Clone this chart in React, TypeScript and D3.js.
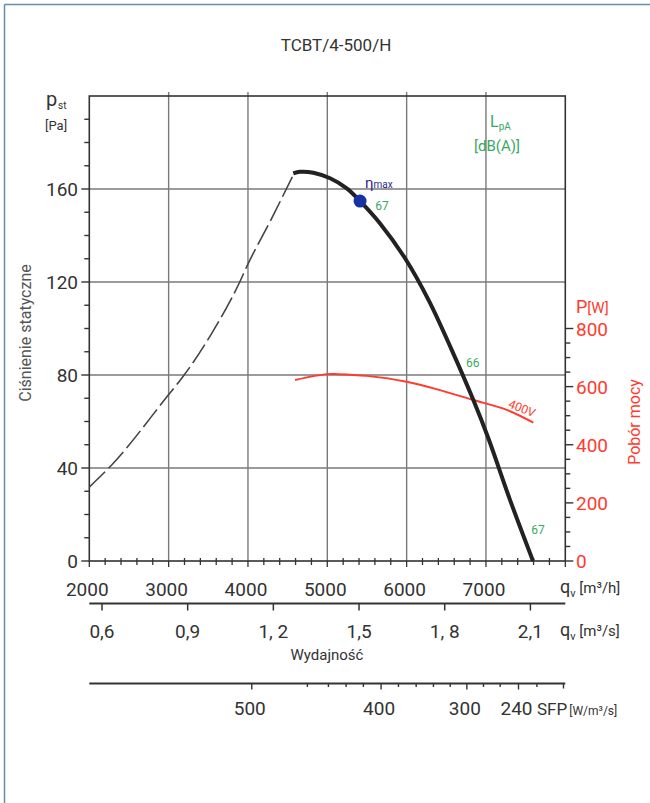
import React from "react";
import * as d3 from "d3";

// ---- data ----
const qhTicks = [2000, 3000, 4000, 5000, 6000, 7000];
const qhMinor = d3.range(2000, 8001, 200);
const qsTicks = [0.6, 0.9, 1.2, 1.5, 1.8, 2.1];
const qsLabels = ["0,6", "0,9", "1, 2", "1,5", "1, 8", "2,1"];
const pTicks = [0, 40, 80, 120, 160];
const pMinor = d3.range(0, 191, 10);
const wTicks = [0, 200, 400, 600, 800];
const wMinor = d3.range(0, 801, 50);

// SFP axis: value and flow position (m3/h) where it sits
const sfpValues = [500, 480, 460, 440, 420, 400, 380, 360, 340, 320, 300, 280, 260, 240, 220];
const sfpFlows = [4048, 4749, 5014, 5237, 5455, 5678, 5897, 6120, 6338, 6549, 6759, 6969, 7179, 7410, 7642];
const sfpLabeled = [500, 400, 300, 240];
const sfpEndFlow = 7977;

// unstable (dashed) part of characteristic
const dashedQ = [2000, 2282, 2996, 3165, 3543, 3878, 4004, 4299, 4571];
const dashedP = [31.8, 41.3, 71.4, 78.6, 97.9, 118.7, 128, 147.4, 166];

// working characteristic
const curveQ = [4571, 4656, 4824, 5035, 5245, 5413, 5665, 5980, 6280, 6568, 6841, 7030, 7304, 7593];
const curveP = [166.7, 167.4, 167, 164.6, 160.3, 154.8, 145.2, 130.2, 112, 90.8, 69.2, 52.8, 26.2, 0];

// power consumption 400V
const powerQ = [4594, 4993, 5139, 5497, 6001, 6421, 6841, 7262, 7597];
const powerW = [623, 643, 643, 637, 617, 588, 554, 520, 476];

const etaQ = 5413;
const etaP = 154.8;

const noiseQ = [5604, 6748, 7570];
const noiseP = [151, 83.6, 11.6];
const noiseText = ["67", "66", "67"];

const FONT = "Roboto, 'Open Sans', sans-serif";
const DARK = "#333";
const RED = "#ff3b2f";
const GREEN = "#3aa866";

export default function App() {
  const W = 650, H = 803;
  const x = d3.scaleLinear().domain([2000, 8000]).range([89.3, 565.3]);
  const y = d3.scaleLinear().domain([0, 200]).range([561, 96]);
  const yW = d3.scaleLinear().domain([0, 1600]).range([561, 96]);
  const [x0, x1] = x.range();
  const [yb, yt] = y.range();

  const dashedPath = d3
    .line<number>()
    .x((q) => x(q))
    .y((_, i) => y(dashedP[i]))
    .curve(d3.curveMonotoneX)(dashedQ);
  const curvePath = d3
    .line<number>()
    .x((q) => x(q))
    .y((_, i) => y(curveP[i]))
    .curve(d3.curveCatmullRom.alpha(0.5))(curveQ);
  const powerPath = d3
    .line<number>()
    .x((q) => x(q))
    .y((_, i) => yW(powerW[i]))
    .curve(d3.curveCatmullRom.alpha(0.5))(powerQ);

  const yQs = 603.5;
  const ySfp = 683.5;

  return (
    <svg width={W} height={H} style={{ position: "absolute", left: 0, top: 0 }} fontFamily={FONT}>
      <rect x={0} y={0} width={W} height={H} fill="#fff" />
      {/* outer frame */}
      <line x1={4.5} y1={4.5} x2={W} y2={4.5} stroke="#6a8bb0" strokeWidth={1.5} />
      <line x1={4.5} y1={4.5} x2={4.5} y2={H} stroke="#6a8bb0" strokeWidth={1.5} />

      <text x={336} y={51} textAnchor="middle" fontSize={17} fill={DARK}>TCBT/4-500/H</text>

      {/* grid */}
      {qhTicks.slice(1).map((q) => (
        <line key={"gv" + q} x1={x(q)} x2={x(q)} y1={yt - 4} y2={yb} stroke="#7a7a7a" strokeWidth={1.4} />
      ))}
      {pTicks.slice(1).map((p) => (
        <line key={"gh" + p} x1={x0} x2={x1} y1={y(p)} y2={y(p)} stroke="#7a7a7a" strokeWidth={1.4} />
      ))}

      {/* plot box */}
      <rect x={x0} y={yt} width={x1 - x0} height={yb - yt} fill="none" stroke="#333" strokeWidth={1.6} />

      {/* left axis ticks */}
      {pMinor.map((p) => (
        <line key={"lt" + p} x1={x0 - (p % 40 === 0 ? 8 : 5)} x2={x0} y1={y(p)} y2={y(p)} stroke="#333" strokeWidth={1.4} />
      ))}
      {pTicks.map((p) => (
        <text key={"ll" + p} x={78} y={y(p) + 7} textAnchor="end" fontSize={19} fill={DARK}>{p}</text>
      ))}
      <text x={46} y={106} fontSize={20} fill={DARK}>p</text>
      <text x={58} y={109} fontSize={10} fill={DARK}>st</text>
      <text x={45} y={130} fontSize={13} fill={DARK}>[Pa]</text>
      <text transform={`translate(31,333) rotate(-90)`} textAnchor="middle" fontSize={16} fill="#555">Ciśnienie statyczne</text>

      {/* right axis */}
      {wMinor.map((w) => (
        <line key={"rt" + w} x1={x1} x2={x1 + (w % 200 === 0 ? 8 : 5)} y1={yW(w)} y2={yW(w)} stroke="#333" strokeWidth={1.4} />
      ))}
      {wTicks.map((w) => (
        <text key={"rl" + w} x={576} y={yW(w) + 7} fontSize={19} fill={RED}>{w}</text>
      ))}
      <text x={576} y={313} fontSize={18} fill={RED}>P<tspan fontSize={15}>[W]</tspan></text>
      <text transform={`translate(640,422) rotate(-90)`} textAnchor="middle" fontSize={16} fill={RED}>Pobór mocy</text>

      {/* bottom axis q m3/h */}
      {qhMinor.map((q) => (
        <line key={"bt" + q} x1={x(q)} x2={x(q)} y1={q % 1000 === 0 ? yb : yb - 3} y2={yb + (q % 1000 === 0 ? 6 : 4)} stroke="#333" strokeWidth={1.3} />
      ))}
      {qhTicks.map((q) => (
        <text key={"bl" + q} x={x(q) - 2} y={596} textAnchor="middle" fontSize={19} fill={DARK}>{q}</text>
      ))}
      <text x={560} y={593} fontSize={18} fill={DARK}>q<tspan fontSize={11} dy={4}>v</tspan><tspan fontSize={15} dy={-4}> [m³/h]</tspan></text>

      {/* second axis m3/s */}
      <line x1={x0} x2={x1} y1={yQs} y2={yQs} stroke="#333" strokeWidth={1.8} />
      {qsTicks.map((q, i) => (
        <g key={"qs" + q}>
          <line x1={x(q * 3600)} x2={x(q * 3600)} y1={yQs} y2={yQs + 7} stroke="#333" strokeWidth={1.5} />
          <text x={x(q * 3600)} y={638} textAnchor="middle" fontSize={19} fill={DARK}>{qsLabels[i]}</text>
        </g>
      ))}
      <text x={560} y={636} fontSize={18} fill={DARK}>q<tspan fontSize={11} dy={4}>v</tspan><tspan fontSize={15} dy={-4}> [m³/s]</tspan></text>
      <text x={327} y={660} textAnchor="middle" fontSize={15} fill={DARK}>Wydajność</text>

      {/* SFP axis */}
      <line x1={x0} x2={x1} y1={ySfp} y2={ySfp} stroke="#333" strokeWidth={1.8} />
      {sfpValues.map((s, i) => (
        <line key={"st" + s} x1={x(sfpFlows[i])} x2={x(sfpFlows[i])} y1={ySfp} y2={ySfp + (sfpLabeled.includes(s) ? 6 : 3.5)} stroke="#333" strokeWidth={1.4} />
      ))}
      <line x1={x(sfpEndFlow)} x2={x(sfpEndFlow)} y1={ySfp} y2={ySfp + 5} stroke="#333" strokeWidth={1.4} />
      {sfpValues.map((s, i) =>
        sfpLabeled.includes(s) ? (
          <text key={"sl" + s} x={x(sfpFlows[i]) - 2} y={715} textAnchor="middle" fontSize={19} fill={DARK}>{s}</text>
        ) : null
      )}
      <text x={537} y={715} fontSize={17} fill={DARK}>SFP<tspan fontSize={12} dx={2}>[W/m³/s]</tspan></text>

      {/* curves */}
      <path d={dashedPath || ""} fill="none" stroke="#444" strokeWidth={1.6} strokeDasharray="22 5" />
      <path d={powerPath || ""} fill="none" stroke={RED} strokeWidth={2} />
      <path d={curvePath || ""} fill="none" stroke="#222" strokeWidth={4} />
      <text transform={`translate(${x(7270)},${yW(530)}) rotate(22)`} fontSize={12} fill={RED}>400V</text>

      <circle cx={x(etaQ)} cy={y(etaP)} r={6.5} fill="#1533a5" />
      <text x={x(etaQ) + 5} y={y(etaP) - 13} fontSize={15} fill="#2e2a8a">η<tspan fontSize={10}>max</tspan></text>

      {noiseQ.map((q, i) => (
        <text key={"n" + i} x={x(q)} y={y(noiseP[i])} fontSize={12} fill={GREEN}>{noiseText[i]}</text>
      ))}

      <text x={490} y={127} fontSize={16} fill={GREEN}>L<tspan fontSize={10} dy={3}>pA</tspan></text>
      <text x={474} y={151} fontSize={15} fill={GREEN}>[dB(A)]</text>
    </svg>
  );
}
